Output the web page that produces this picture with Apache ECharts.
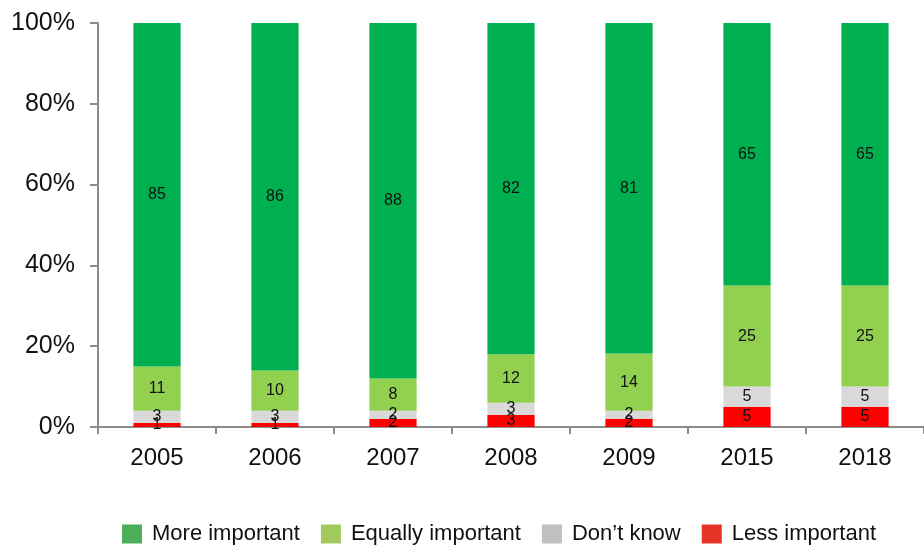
<!DOCTYPE html>
<html>
<head>
<meta charset="utf-8">
<script src="https://cdn.jsdelivr.net/npm/echarts@6/dist/echarts.min.js"></script>
<style>
    html, body { margin: 0; padding: 0; background: #fff; }
    #main { width: 924px; height: 550px; }
</style>
</head>
<body>
<div id="main"></div>
<script>
var years = ['2005', '2006', '2007', '2008', '2009', '2015', '2018'];
var lessImportant = [1, 1, 2, 3, 2, 5, 5];
var dontKnow = [3, 3, 2, 3, 2, 5, 5];
var equallyImportant = [11, 10, 8, 12, 14, 25, 25];
var moreImportant = [85, 86, 88, 82, 81, 65, 65];

(function () {
    var chart = echarts.init(document.getElementById('main'));

    //每年合计,用于换算成百分比
    var totals = years.map(function (y, i) {
        return lessImportant[i] + dontKnow[i] + equallyImportant[i] + moreImportant[i];
    });

    function toPercent(arr) {
        return arr.map(function (v, i) {
            return { value: v / totals[i] * 100, raw: v };
        });
    }

    function makeSeries(name, arr, color) {
        return {
            name: name,
            type: 'bar',
            stack: 'total',
            barWidth: '40%',
            itemStyle: { color: color },
            label: {
                show: true,
                position: 'inside',
                color: '#111',
                fontSize: 16,
                fontFamily: 'Liberation Sans',
                formatter: function (p) {
                    return p.data.raw;
                }
            },
            data: toPercent(arr)
        };
    }

    var option = {
        backgroundColor: '#fff',
        animation: false,
        textStyle: { fontFamily: 'Liberation Sans' },
        grid: {
            left: 98,
            right: 0,
            top: 23,
            bottom: 123
        },
        legend: {
            top: 518,
            left: 117,
            itemWidth: 20,
            itemHeight: 19,
            itemGap: 21,
            icon: 'rect',
            textStyle: {
                fontSize: 22,
                color: '#111',
                fontFamily: 'Liberation Sans',
                padding: [0, 0, 0, 5]
            },
            data: [
                { name: 'More important', itemStyle: { color: '#4CAF5A' } },
                { name: 'Equally important', itemStyle: { color: '#A2C95E' } },
                { name: 'Don\u2019t know', itemStyle: { color: '#C0C0C0' } },
                { name: 'Less important', itemStyle: { color: '#E53328' } }
            ]
        },
        xAxis: {
            type: 'category',
            data: years,
            axisLine: { lineStyle: { color: '#8c8c8c', width: 2 } },
            axisTick: {
                show: true,
                alignWithLabel: false,
                length: 7,
                lineStyle: { color: '#8c8c8c', width: 2 }
            },
            axisLabel: {
                fontSize: 24,
                color: '#111',
                margin: 19
            }
        },
        yAxis: {
            type: 'value',
            min: 0,
            max: 100,
            interval: 20,
            splitLine: { show: false },
            axisLine: { show: true, lineStyle: { color: '#8c8c8c', width: 2 } },
            axisTick: {
                show: true,
                length: 8,
                lineStyle: { color: '#8c8c8c', width: 2 }
            },
            axisLabel: {
                fontSize: 25,
                color: '#111',
                margin: 23,
                formatter: '{value}%'
            }
        },
        series: [
            makeSeries('Less important', lessImportant, '#FF0000'),
            makeSeries('Don\u2019t know', dontKnow, '#D9D9D9'),
            makeSeries('Equally important', equallyImportant, '#92D050'),
            makeSeries('More important', moreImportant, '#00B050')
        ]
    };
    chart.setOption(option);
})();
</script>
</body>
</html>
